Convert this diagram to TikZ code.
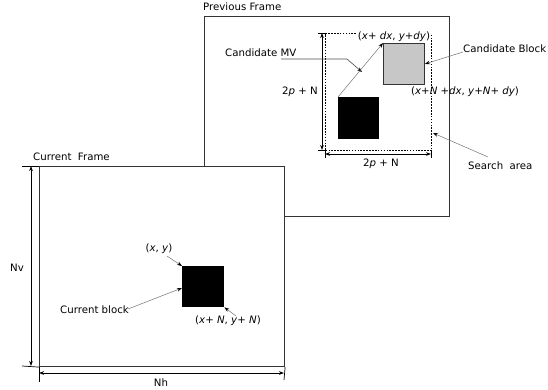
\documentclass[tikz,border=0pt]{standalone}
\usepackage{fontspec}
\setmainfont{DejaVu Sans}
\usetikzlibrary{arrows.meta}
\begin{document}
\begin{tikzpicture}[x=1pt,y=-1pt,
  frame/.style={draw=black!80, line width=1.1pt, inner sep=0pt, anchor=north west},
  blk/.style={fill=black, inner sep=0pt, anchor=north west},
  lbl/.style={font=\fontsize{10.2}{12}\selectfont, inner sep=1pt},
  ann/.style={draw=black!55, line width=0.5pt, -{Stealth[length=5pt,width=3.6pt,black]}},
  dim/.style={draw=black, line width=0.7pt, {Stealth[length=5pt,width=3.6pt]}-{Stealth[length=5pt,width=3.6pt]}},
  tick/.style={draw=black, line width=0.7pt}]
\useasboundingbox (0,0) rectangle (548,390);

% ---------- previous frame ----------
\node[frame, minimum width=245pt, minimum height=200pt] (prev) at (204,16) {};
\node[lbl, anchor=west] (prevlbl) at (202,7) {Previous Frame};

% search area
\node[draw=black, line width=1.3pt, dash pattern=on 1.6pt off 1.3pt, inner sep=0pt,
      anchor=north west, minimum width=106pt, minimum height=117pt] (search) at (325,33) {};

% candidate block and previous-position block
\node[draw=black!80, line width=0.9pt, fill=black!22, inner sep=0pt, anchor=north west,
      minimum width=41pt, minimum height=41pt] (cand) at (383,43) {};
\node[blk, minimum width=41pt, minimum height=42pt] (pblk) at (338,97) {};

% corner labels of candidate
\node[lbl, fill=white, inner sep=0.5pt] (cxy) at (394,36.5) {(\textit{x}+ \textit{dx}, \textit{y}+\textit{dy})};
\node[lbl] (cxyn) at (465,92) {(\textit{x}+\textit{N} +\textit{dx}, \textit{y}+\textit{N}+ \textit{dy})};

% vertical 2p+N
\coordinate (v1) at (322,33);
\coordinate (v2) at (322,150);
\draw[tick] (318,33) -- (326,33);
\draw[tick] (318,150) -- (326,150);
\draw[dim] (v1) -- (v2);
\node[lbl, anchor=east] (vlbl) at (319,92) {2\textit{p} + N};

% horizontal 2p+N
\coordinate (h1) at (325,154);
\coordinate (h2) at (431,154);
\draw[tick] (325,150) -- (325,158);
\draw[tick] (431,150) -- (431,158);
\draw[dim] (h1) -- (h2);
\node[lbl] (hlbl) at (381,163.5) {2\textit{p} + N};

% candidate MV
\node[lbl, anchor=west] (mvlbl) at (224,53) {Candidate MV};
\coordinate (mv1) at (281,59);
\coordinate (mv2) at (347,59);
\draw[draw=black!70, line width=0.6pt, -{Stealth[length=5pt,width=3.6pt,black]}] (mv1) -- (mv2) -- (362,72);
\draw[ann] (pblk.north west) -- (cand.north west);

% candidate block label
\node[lbl, anchor=west] (cblbl) at (462,49) {Candidate Block};
\draw[ann] (cblbl.west) ++(1,3) -- (cand.east);

% search area label
\node[lbl, anchor=west] (salbl) at (467,166) {Search\ \ area};
\coordinate (sa0) at (488,157);
\draw[ann] (sa0) -- (433,133);

% ---------- current frame ----------
\node[frame, fill=white, minimum width=245pt, minimum height=200pt] (cur) at (39,166) {};
\node[lbl, anchor=west] (curlbl) at (32,157) {Current\ \ Frame};

\node[blk, minimum width=42pt, minimum height=41pt] (cblk) at (182,266) {};

% Nv
\draw[tick] (22,166) -- (cur.north west);
\draw[tick] (22,366) -- (cur.south west);
\draw[dim] (31,166) -- (31,366);
\node[lbl] (nv) at (17,268) {Nv};

% Nh
\draw[tick] (cur.south west) -- (39,382);
\draw[tick] (cur.south east) -- (284,380);
\draw[dim] (39,373) -- (284,373);
\node[lbl] (nh) at (161,383) {Nh};

% labels of current block
\node[lbl] (xy) at (159,249) {(\textit{x}, \textit{y})};
\draw[ann] (167,256) -- (cblk.north west);
\node[lbl, anchor=west] (cbl) at (59,310) {Current block};
\draw[ann] (cbl.east) ++(-2,-1) -- (182,288);
\node[lbl] (xyn) at (228,320.5) {(\textit{x}+ \textit{N}, \textit{y}+ \textit{N})};
\draw[ann] (236,316) -- (cblk.south east);
\end{tikzpicture}
\end{document}
